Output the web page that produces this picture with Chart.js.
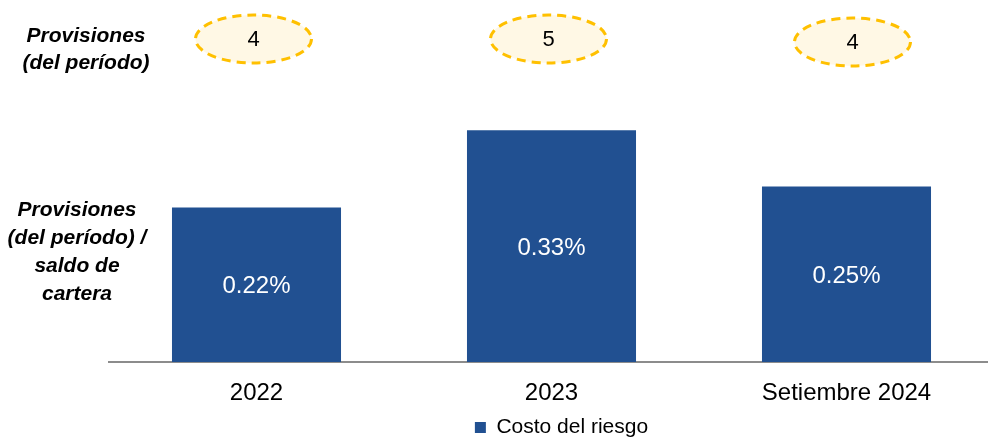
<!DOCTYPE html>
<html>
<head>
<meta charset="utf-8">
<script src="https://cdn.jsdelivr.net/npm/chart.js@4"></script>
<style>
  html, body { margin: 0; padding: 0; background: #fff; overflow: hidden; width: 988px; height: 438px; }
  canvas { display: block; }
</style>
</head>
<body>
<canvas id="riskChart" width="994" height="448"></canvas>
<script>
// chart data
const categories = ['2022', '2023', 'Setiembre 2024'];
const costoRiesgo = [0.22, 0.33, 0.25];      // %
const provisiones = [4, 5, 4];               // provisiones del periodo
const seriesName = 'Costo del riesgo';
const leftTopLabel = ['Provisiones', '(del período)'];
const leftBottomLabel = ['Provisiones', '(del período) /', 'saldo de', 'cartera'];

const FONT = "'Liberation Sans', Arial, sans-serif";
const BLUE = '#215091';

// ellipses with provisiones + left side labels + values inside bars
const extrasPlugin = {
  id: 'extras',
  afterLayout(chart) {
    // legend sits a bit right of the plot centre in the original
    chart.legend.left += 10;
    chart.legend.right += 10;
  },
  afterDatasetsDraw(chart) {
    const ctx = chart.ctx;
    const meta = chart.getDatasetMeta(0);
    ctx.save();

    // value labels inside bars
    ctx.fillStyle = '#fff';
    ctx.font = '24px ' + FONT;
    ctx.textAlign = 'center';
    ctx.textBaseline = 'middle';
    meta.data.forEach((bar, i) => {
      const mid = (bar.y + bar.base) / 2 + 2;
      ctx.fillText(costoRiesgo[i].toFixed(2) + '%', bar.x, mid);
    });

    // provisiones ellipses
    const xScale = chart.scales.x;
    provisiones.forEach((v, i) => {
      const cx = xScale.getPixelForValue(i) + (i === 2 ? 6 : -3);
      const cy = i === 2 ? 42 : 39;
      ctx.beginPath();
      ctx.ellipse(cx, cy, 58, 24, 0, 0, Math.PI * 2);
      ctx.fillStyle = '#FFF8E5';
      ctx.fill();
      ctx.setLineDash([9, 6]);
      ctx.lineWidth = 3;
      ctx.strokeStyle = '#FFC000';
      ctx.stroke();
      ctx.setLineDash([]);
      ctx.fillStyle = '#000';
      ctx.font = '22px ' + FONT;
      ctx.fillText(String(v), cx, cy + 1);
    });

    // left labels
    ctx.fillStyle = '#000';
    ctx.font = 'italic bold 21px ' + FONT;
    leftTopLabel.forEach((t, i) => ctx.fillText(t, 86, 36 + i * 27));
    leftBottomLabel.forEach((t, i) => ctx.fillText(t, 77, 210 + i * 28));

    ctx.restore();
  }
};

const ctx = document.getElementById('riskChart').getContext('2d');

new Chart(ctx, {
  type: 'bar',
  data: {
    labels: categories,
    datasets: [{
      label: seriesName,
      data: costoRiesgo,
      backgroundColor: BLUE,
      borderWidth: 0,
      categoryPercentage: 1,
      barPercentage: 0.573
    }]
  },
  options: {
    responsive: false,
    animation: false,
    devicePixelRatio: 1,
    layout: {
      padding: { top: 81, left: 109, right: 0, bottom: 0 }
    },
    scales: {
      x: {
        afterFit(scale) { scale.height = 55; },
        grid: { display: false, drawTicks: false },
        border: { display: true, color: '#8C8C8C', width: 2 },
        ticks: {
          color: '#000',
          padding: 19,
          font: { family: FONT, size: 24, lineHeight: 1 }
        }
      },
      y: {
        display: false,
        min: 0,
        max: 0.4
      }
    },
    plugins: {
      legend: {
        position: 'bottom',
        fullSize: false,
        labels: {
          boxWidth: 11,
          boxHeight: 11,
          padding: 0,
          color: '#000',
          font: { family: FONT, size: 21 }
        }
      },
      tooltip: { enabled: false }
    }
  },
  plugins: [extrasPlugin]
});
</script>
</body>
</html>
